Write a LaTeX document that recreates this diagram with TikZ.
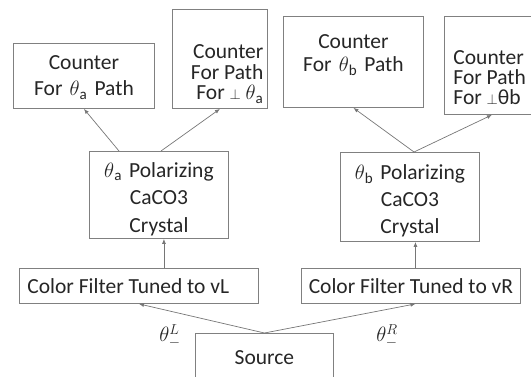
\documentclass[tikz,border=0pt]{standalone}
\usepackage{fontspec}
\setmainfont{Carlito}
\usetikzlibrary{arrows.meta}
\definecolor{boxgray}{RGB}{128,128,128}
\definecolor{linegray}{RGB}{118,118,118}
\newcommand{\boxfont}[1]{\fontsize{21.5}{#1}\selectfont}
\newcommand{\perpsym}{{\fontsize{15}{15}\selectfont$\perp$}}

\begin{document}
\begin{tikzpicture}[x=1pt,y=-1pt,
  box/.style={draw=boxgray, line width=0.9pt, inner sep=0pt, anchor=north west, text=black!85},
  link/.style={draw=linegray, line width=0.7pt, -{Latex[length=5pt,width=4pt]}}]
 \useasboundingbox (0,0) rectangle (531,376);

 % counters on top
 \node[box, align=center, text width=141pt, text height=26.5pt, text depth=38.5pt, font=\boxfont{26}] (cntA) at (13,43)
   {Counter\\For $\theta$\textsubscript{a} Path};
 \node[box, align=flush right, inner xsep=4pt, text width=87pt, text height=49.5pt, text depth=49.5pt, font=\boxfont{20.5}] (cntAperp) at (172,9)
   {Counter\\For Path\\For \perpsym\ $\theta$\textsubscript{a}};
 \node[box, align=center, text width=140pt, text height=32.5pt, text depth=58.5pt, font=\boxfont{23}] (cntB) at (283,16)
   {Counter\\For $\theta$\textsubscript{b} Path};
 \node[box, align=flush left, inner xsep=9pt, text width=77pt, text height=48.5pt, text depth=49.5pt, font=\boxfont{20}] (cntBperp) at (444,16)
   {Counter\\For Path\\For \perpsym θb};

 % crystals
 \node[box, align=center, text width=139pt, text height=26pt, text depth=61pt, font=\boxfont{27.5}] (polA) at (89,151)
   {$\theta$\textsubscript{a} Polarizing\\CaCO3\\Crystal};
 \node[box, align=center, text width=139pt, text height=27.5pt, text depth=61.5pt, font=\boxfont{27}] (polB) at (340,152)
   {$\theta$\textsubscript{b} Polarizing\\CaCO3\\Crystal};

 % filters and source
 \node[box, inner xsep=8pt, text height=25pt, text depth=10pt, font=\boxfont{26}] (filtL) at (19,268)
   {\makebox[223pt][l]{Color Filter Tuned to vL}};
 \node[box, minimum width=219pt, text height=25pt, text depth=10pt, font=\boxfont{26}] (filtR) at (301,268)
   {Color Filter Tuned to vR};
 \node[box, align=center, text width=138pt, text height=31pt, text depth=17pt, font=\boxfont{26}] (src) at (195,333)
   {Source};

 \node[text=black!85, font=\boxfont{26}] (thL) at (170,336) {$\theta^{L}_{-}$};
 \node[text=black!85, font=\boxfont{26}] (thR) at (387,336) {$\theta^{R}_{-}$};

 \coordinate (axA) at ([xshift=5pt]polA.south);
 \coordinate (axB) at ([xshift=5.5pt]polB.south);

 \draw[link] ([xshift=30pt]polA.north west) -- (cntA.south);
 \draw[link] ([xshift=72pt]polA.north west) -- (cntAperp.south);
 \draw[link] ([xshift=74pt]polB.north west) -- (cntB.south);
 \draw[link] ([xshift=74pt]polB.north west) -- (cntBperp.south);
 \draw[link] (axA |- filtL.north) -- (axA);
 \draw[link] (axB |- filtR.north) -- (axB);
 \draw[link] (src.north) -- (filtL.south);
 \draw[link] (src.north) -- ([xshift=4.5pt]filtR.south);

\end{tikzpicture}
\end{document}
